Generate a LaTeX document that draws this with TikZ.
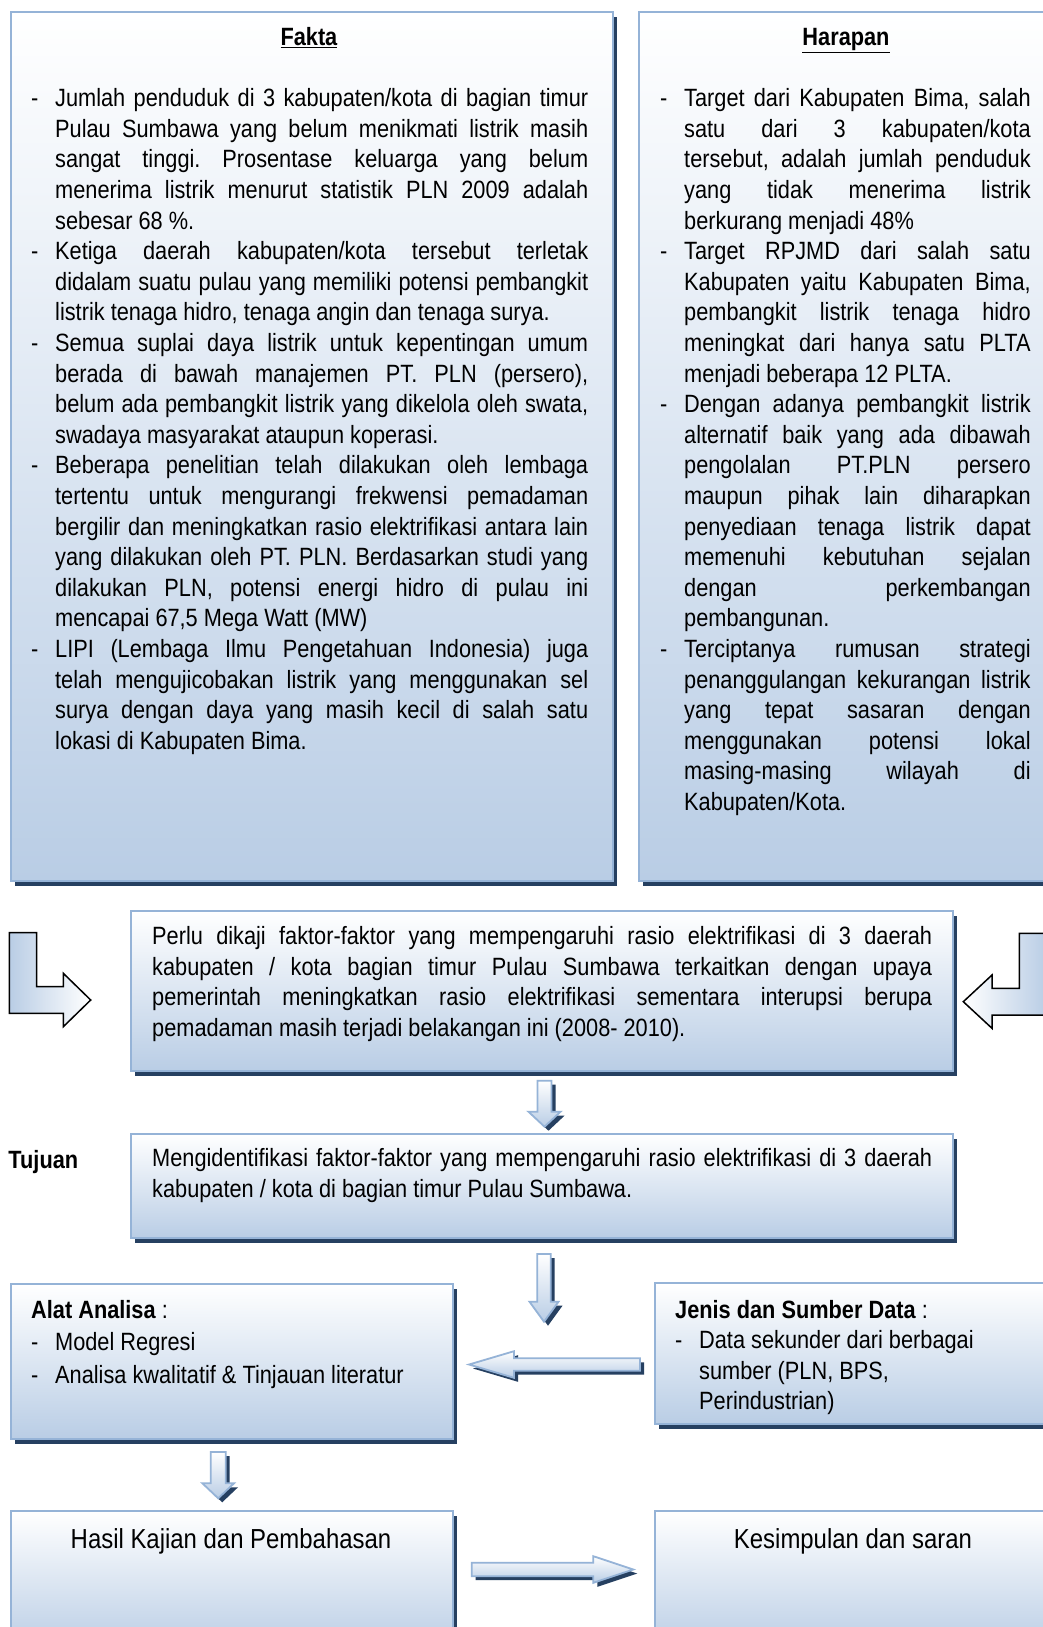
\documentclass[tikz,border=0pt]{standalone}
\usepackage{fontspec}
\setmainfont{Liberation Sans}[FakeStretch=0.87]
\usetikzlibrary{shadows}

\definecolor{boxline}{RGB}{149,179,215}
\definecolor{boxfill}{RGB}{185,205,229}
\definecolor{boxshadow}{RGB}{38,64,97}

\tolerance=10000
\hyphenpenalty=10000
\exhyphenpenalty=10000
\frenchspacing

% dash with hanging indent for the lists
\newcommand{\dashhang}{\hangindent=24pt\hangafter=1\noindent\makebox[24pt][l]{-}}
\newcommand{\listdash}{\par\dashhang}

% block arrows (the y axis points down)
\newcommand{\downblock}[6]{% x, top, head base, tip, half shaft, half head
  \draw[blockarrow] (#1-#5,#2) -- (#1+#5,#2) -- (#1+#5,#3) -- (#1+#6,#3) -- (#1,#4)
    -- (#1-#6,#3) -- (#1-#5,#3) -- cycle;}
\newcommand{\sideblock}[6]{% y, tail, head base, tip, half shaft, half head
  \draw[blockarrow] (#2,#1-#5) -- (#3,#1-#5) -- (#3,#1-#6) -- (#4,#1)
    -- (#3,#1+#6) -- (#3,#1+#5) -- (#2,#1+#5) -- cycle;}

\begin{document}
\begin{tikzpicture}[x=1pt, y=-1pt,
  every node/.style={inner sep=0pt, font=\fontsize{25}{30.6}\selectfont},
  box/.style={draw=boxline, line width=2.2pt, top color=white, bottom color=boxfill, anchor=north west,
    drop shadow={shadow xshift=4pt, shadow yshift=-5pt, fill=boxshadow, opacity=1}},
  txt/.style={anchor=base west, align=justify, text width=#1},
  title/.style={anchor=base},
  blockarrow/.style={draw=boxline, line width=1.8pt, top color=white, bottom color=boxfill,
    drop shadow={shadow xshift=4pt, shadow yshift=-4pt, fill=boxshadow, opacity=1}},
  bentarrow/.style={draw=black, line width=1.5pt}]

\path[use as bounding box, fill=white] (0,0) rectangle (1043,1627);
\clip (0,0) rectangle (1043,1627);

% Frames
\node[box, minimum width=602pt, minimum height=869pt] (fakta) at (10,11) {};
\node[box, minimum width=416pt, minimum height=869pt] (harapan) at (638,11) {};
\node[box, minimum width=822pt, minimum height=160pt] (masalah) at (130,910) {};
\node[box, minimum width=822pt, minimum height=104pt] (tujuan) at (130,1133) {};
\node[box, minimum width=442pt, minimum height=155pt] (alat) at (10,1283) {};
\node[box, minimum width=400pt, minimum height=141pt] (data) at (654,1282) {};
\node[box, minimum width=442pt, minimum height=140pt] (hasil) at (10,1510) {};
\node[box, minimum width=400pt, minimum height=140pt] (kesimpulan) at (654,1510) {};

% Texts
\node[title] (faktaHead) at (309,46) {\underline{\textbf{Fakta}}};
\node[title] (harapanHead) at (846,46) {\underline{\textbf{Harapan}}};
\node[txt=557pt] (faktaText) at (31,106.7) {\dashhang Jumlah penduduk di 3 kabupaten/kota di bagian timur\linebreak
  Pulau Sumbawa  yang belum menikmati listrik masih\linebreak sangat tinggi. Prosentase keluarga yang belum\linebreak
  menerima listrik menurut statistik PLN 2009  adalah\linebreak sebesar 68 \%.
  \listdash Ketiga daerah kabupaten/kota tersebut terletak\linebreak didalam suatu pulau yang memiliki potensi pembangkit\linebreak
  listrik tenaga hidro, tenaga angin dan tenaga surya.
  \listdash Semua suplai daya listrik untuk kepentingan umum\linebreak berada di bawah manajemen PT. PLN (persero),\linebreak
  belum ada pembangkit listrik yang dikelola oleh swata,\linebreak swadaya masyarakat ataupun koperasi.
  \listdash Beberapa penelitian telah dilakukan oleh lembaga\linebreak tertentu untuk mengurangi frekwensi pemadaman\linebreak
  bergilir dan meningkatkan rasio elektrifikasi antara lain\linebreak yang dilakukan oleh PT. PLN. Berdasarkan studi yang\linebreak
  dilakukan PLN, potensi energi hidro di pulau ini\linebreak mencapai 67,5 Mega Watt (MW)
  \listdash LIPI (Lembaga Ilmu Pengetahuan Indonesia) juga\linebreak telah mengujicobakan listrik yang menggunakan sel\linebreak
  surya dengan daya yang masih kecil di salah satu\linebreak lokasi di Kabupaten Bima.\par};
\node[txt=370.5pt] (harapanText) at (660,106.7) {\dashhang Target dari Kabupaten Bima, salah\linebreak
  satu dari 3 kabupaten/kota\linebreak tersebut, adalah jumlah penduduk\linebreak yang tidak menerima listrik\linebreak
  berkurang menjadi 48\%
  \listdash Target RPJMD dari salah satu\linebreak Kabupaten yaitu Kabupaten Bima,\linebreak pembangkit listrik tenaga hidro\linebreak
  meningkat dari hanya satu PLTA\linebreak menjadi beberapa 12 PLTA.
  \listdash Dengan adanya pembangkit listrik\linebreak alternatif baik yang ada dibawah\linebreak pengolalan PT.PLN persero\linebreak
  maupun pihak lain diharapkan\linebreak penyediaan tenaga listrik dapat\linebreak memenuhi kebutuhan sejalan\linebreak
  dengan perkembangan\linebreak pembangunan.
  \listdash Terciptanya rumusan strategi\linebreak penanggulangan kekurangan listrik\linebreak yang tepat sasaran dengan\linebreak
  menggunakan potensi lokal\linebreak masing-masing wilayah di\linebreak Kabupaten/Kota.\par};
\node[txt=780pt] (masalahText) at (152,944.5) {Perlu dikaji faktor-faktor yang mempengaruhi rasio elektrifikasi di 3 daerah\linebreak
  kabupaten / kota bagian timur Pulau Sumbawa terkaitkan dengan upaya\linebreak
  pemerintah meningkatkan rasio elektrifikasi sementara interupsi berupa\linebreak
  pemadaman masih terjadi belakangan ini (2008- 2010).};
\node[anchor=base west] (tujuanLabel) at (8.3,1168) {\textbf{Tujuan}};
\node[txt=780pt] (tujuanText) at (152,1166.5) {Mengidentifikasi faktor-faktor yang mempengaruhi rasio elektrifikasi di 3 daerah\linebreak
  kabupaten / kota di bagian timur Pulau Sumbawa.};
\node[txt=410pt, font=\fontsize{25}{32.5}\selectfont] (alatText) at (31,1318) {\textbf{Alat Analisa} :
  \listdash Model Regresi\listdash Analisa kwalitatif \& Tinjauan literatur\par};
\node[txt=370pt, font=\fontsize{25}{30.5}\selectfont] (dataText) at (675,1318) {\textbf{Jenis dan Sumber Data} :
  \listdash Data sekunder dari berbagai\newline sumber (PLN, BPS,\newline Perindustrian)\par};
\node[title, font=\fontsize{27.5}{33}\selectfont] (hasilText) at (231,1548) {Hasil Kajian dan Pembahasan};
\node[title, font=\fontsize{27.5}{33}\selectfont] (kesimpulanText) at (853,1548) {Kesimpulan dan saran};

% Arrows
\draw[bentarrow, left color=boxfill, right color=white] (9.3,932.7) -- (36.7,932.7) -- (36.7,986.7) -- (63.3,986.7)
  -- (63.3,973.3) -- (90.7,1000) -- (63.3,1026.7) -- (63.3,1013.3) -- (9.3,1013.3) -- cycle;
\draw[bentarrow, left color=white, right color=boxfill] (1046.7,933.3) -- (1019.3,933.3) -- (1019.3,988.3) -- (992,988.3)
  -- (992,975) -- (963.3,1001.7) -- (992,1028.3) -- (992,1015) -- (1046.7,1015) -- cycle;
\downblock{544.5}{1080.7}{1111.7}{1126.7}{7}{16}
\downblock{544}{1254}{1301.7}{1321.7}{6.7}{14.5}
\downblock{218.2}{1452}{1483.3}{1498.3}{7.5}{15.8}
\sideblock{1364.5}{640}{514}{469}{6.2}{13.3}
\sideblock{1569.5}{471.7}{593.3}{633.3}{6.7}{13.3}
\end{tikzpicture}
\end{document}
